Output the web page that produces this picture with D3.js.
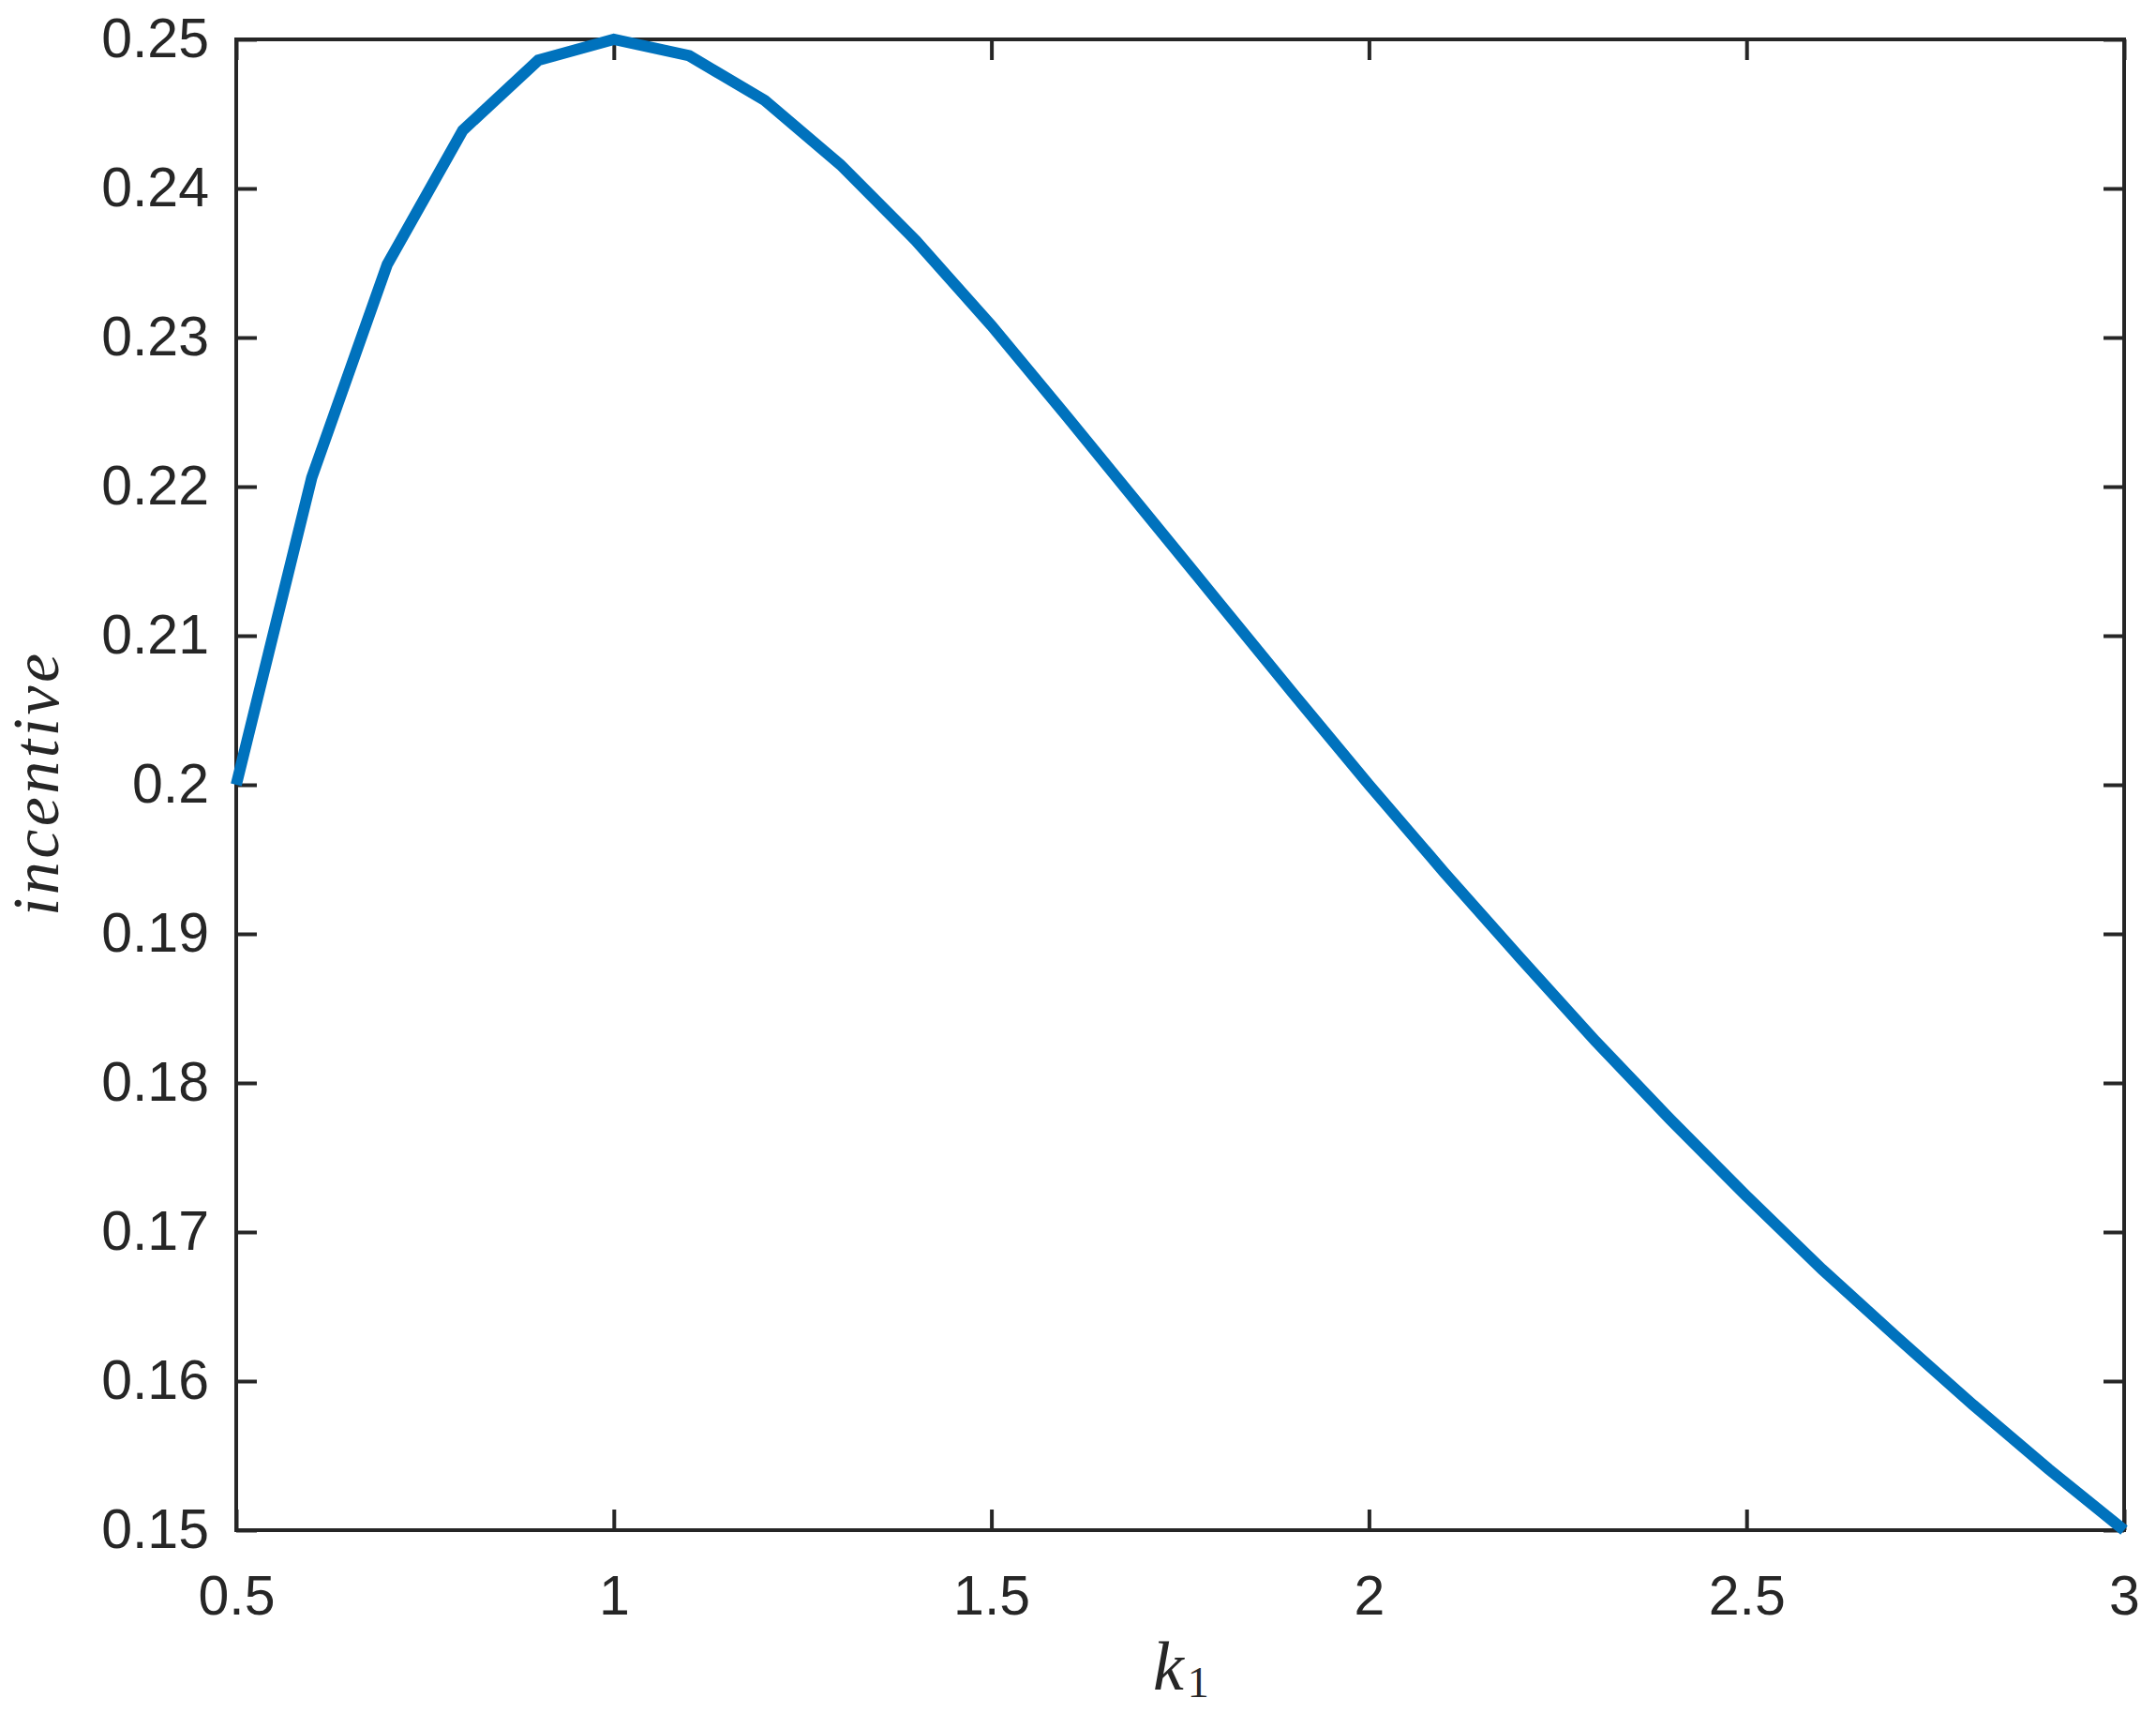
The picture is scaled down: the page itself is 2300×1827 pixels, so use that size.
<!DOCTYPE html>
<html>
<head>
<meta charset="utf-8">
<script src="https://cdn.jsdelivr.net/npm/d3@7"></script>
<style>
  body { margin: 0; background: #fff; }
  svg { display: block; }
</style>
</head>
<body>
<div id="chart"></div>
<script>
// k1 values and the incentive
const k1 = [0.5, 0.6, 0.7, 0.8, 0.9, 1.0, 1.1, 1.2, 1.3, 1.4, 1.5, 1.6, 1.7,
            1.8, 1.9, 2.0, 2.1, 2.2, 2.3, 2.4, 2.5, 2.6, 2.7, 2.8, 2.9, 3.0];
const incentive = [0.2, 0.2206, 0.2349, 0.2439, 0.2486, 0.25, 0.2489, 0.2459,
                   0.2416, 0.2365, 0.2308, 0.2247, 0.2185, 0.2123, 0.2061, 0.2,
                   0.1941, 0.1884, 0.1828, 0.1775, 0.1724, 0.1675, 0.1629,
                   0.1584, 0.1541, 0.15];
const xTicks = [0.5, 1, 1.5, 2, 2.5, 3];
const yTicks = [0.15, 0.16, 0.17, 0.18, 0.19, 0.2, 0.21, 0.22, 0.23, 0.24, 0.25];

const width = 2300, height = 1827;
const margin = {top: 42, right: 34, bottom: 195, left: 252};
const plotW = width - margin.left - margin.right;
const plotH = height - margin.top - margin.bottom;
const ink = "#262626";

const svg = d3.select("#chart").append("svg")
    .attr("width", width)
    .attr("height", height);

const g = svg.append("g")
    .attr("transform", `translate(${margin.left},${margin.top})`);

const x = d3.scaleLinear().domain([0.5, 3]).range([0, plotW]);
const y = d3.scaleLinear().domain([0.15, 0.25]).range([plotH, 0]);

const fmt = d => String(+d.toFixed(2));

// axes with inward ticks on all four sides
const tickLen = 22;
const axes = [
  {ax: d3.axisBottom(x).tickValues(xTicks).tickSize(-tickLen).tickPadding(48).tickFormat(fmt), t: `translate(0,${plotH})`},
  {ax: d3.axisTop(x).tickValues(xTicks).tickSize(-tickLen).tickFormat(""), t: "translate(0,0)"},
  {ax: d3.axisLeft(y).tickValues(yTicks).tickSize(-tickLen).tickPadding(29).tickFormat(fmt), t: "translate(0,0)"},
  {ax: d3.axisRight(y).tickValues(yTicks).tickSize(-tickLen).tickFormat(""), t: `translate(${plotW},0)`}
];

axes.forEach(a => {
  const sel = g.append("g").attr("transform", a.t).call(a.ax);
  sel.select(".domain").remove();
  sel.selectAll(".tick line").attr("stroke", ink).attr("stroke-width", 4);
  sel.selectAll(".tick text")
      .attr("fill", ink)
      .style("font-family", "'Liberation Sans', Arial, sans-serif")
      .style("font-size", "59px");
});

// box
g.append("rect")
    .attr("x", 0).attr("y", 0)
    .attr("width", plotW).attr("height", plotH)
    .attr("fill", "none")
    .attr("stroke", ink)
    .attr("stroke-width", 4);

// the curve
const line = d3.line()
    .x((d, i) => x(k1[i]))
    .y(d => y(d));

g.append("path")
    .datum(incentive)
    .attr("d", line)
    .attr("fill", "none")
    .attr("stroke", "#0072BD")
    .attr("stroke-width", 12)
    .attr("stroke-linejoin", "miter");

// x label: k with subscript 1
const xl = svg.append("text")
    .attr("x", 1230)
    .attr("y", 1802)
    .attr("fill", ink)
    .style("font-family", "'Liberation Serif', 'Times New Roman', serif");
xl.append("tspan").text("k")
    .style("font-style", "italic")
    .style("font-size", "74px");
xl.append("tspan").text("1")
    .attr("dx", 4)
    .attr("dy", 8)
    .style("font-size", "46px");

// y label
svg.append("text")
    .attr("transform", `translate(62,${margin.top + plotH / 2}) rotate(-90)`)
    .attr("text-anchor", "middle")
    .attr("fill", ink)
    .attr("textLength", 280)
    .attr("lengthAdjust", "spacing")
    .style("font-family", "'Liberation Serif', 'Times New Roman', serif")
    .style("font-style", "italic")
    .style("font-size", "70px")
    .text("incentive");
</script>
</body>
</html>
